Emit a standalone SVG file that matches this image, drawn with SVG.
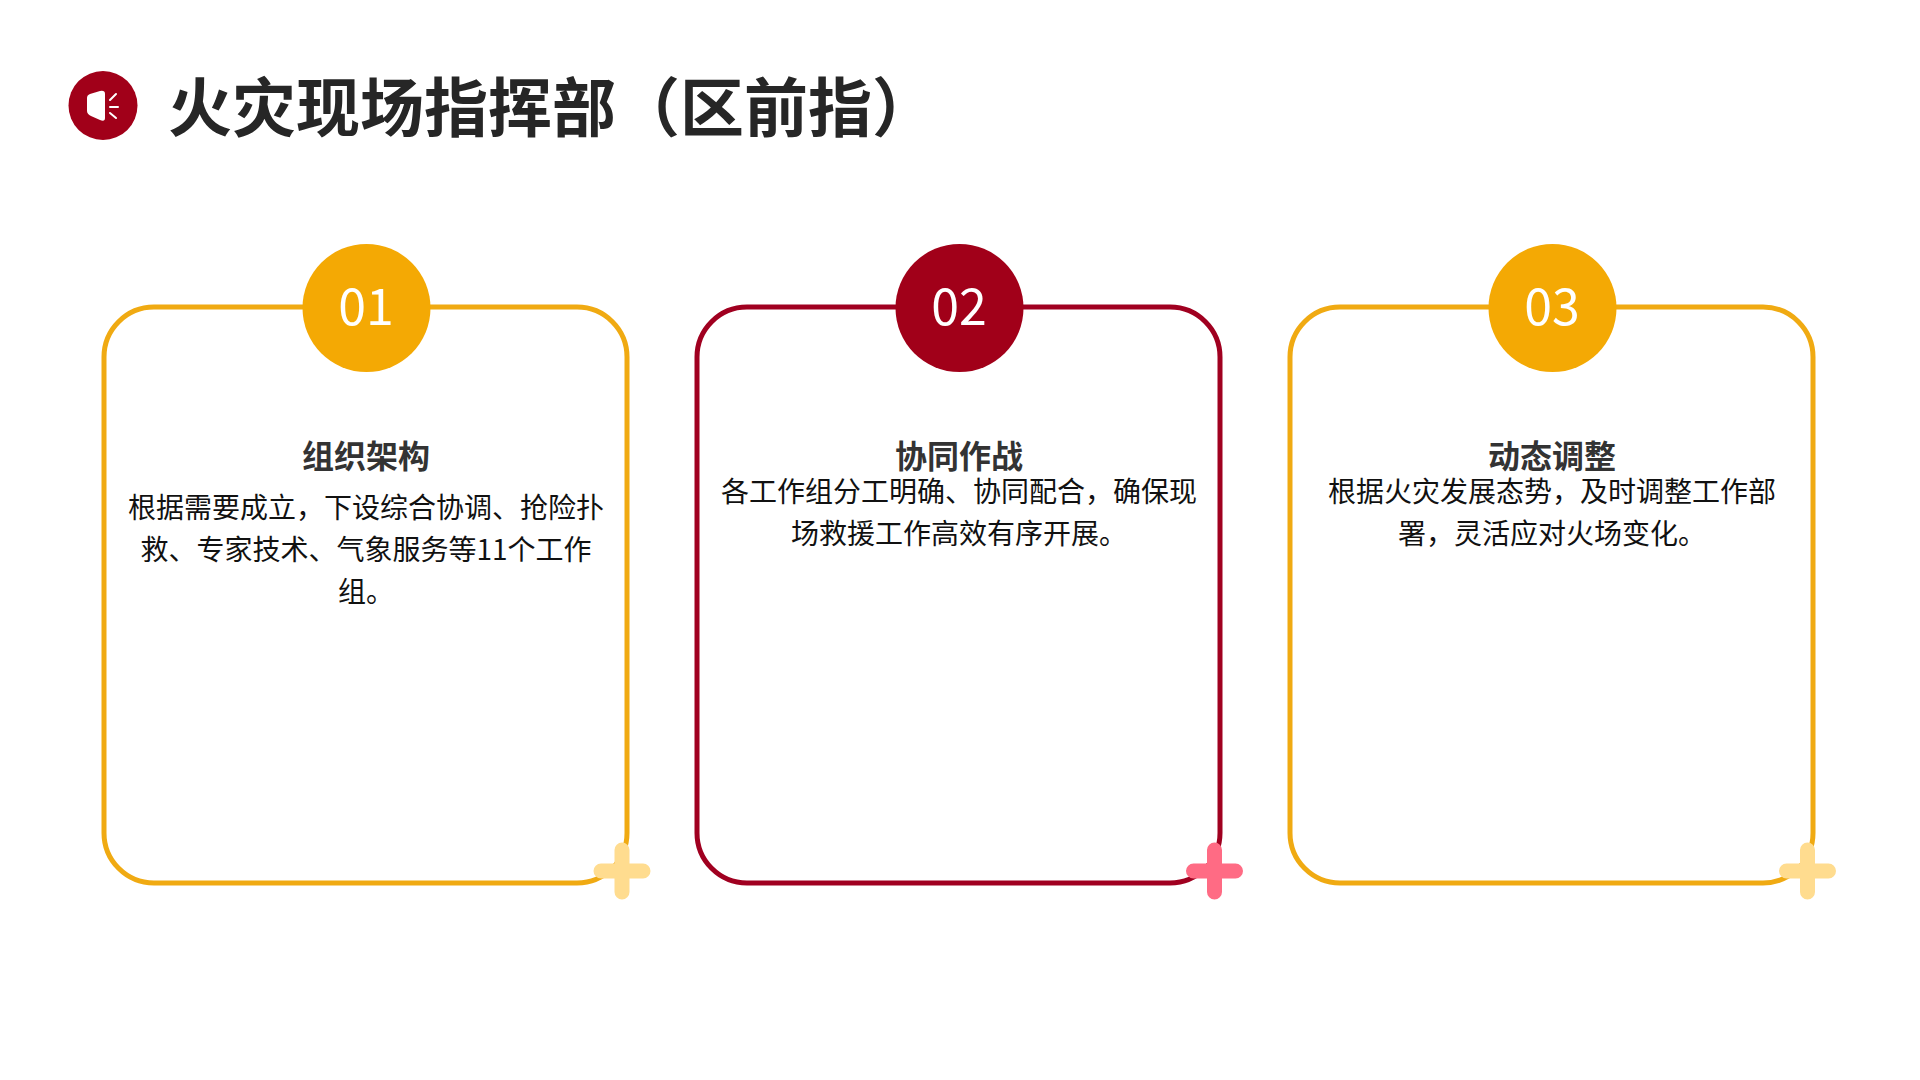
<svg xmlns="http://www.w3.org/2000/svg" width="1920" height="1080" viewBox="0 0 1920 1080">
<style>
text{font-family:"Noto Sans CJK SC","Noto Sans",sans-serif;text-anchor:middle}
.title{font-size:64px;font-weight:700;fill:#262626;text-anchor:start}
.h{font-size:32px;font-weight:700;fill:#333}
.b{font-size:28px;fill:#111}
.n{font-size:50px;font-weight:400;fill:#fff}
.card{fill:#fff;stroke-width:5}
.y{stroke:#f0aa12}.r{stroke:#a00020}
.py{stroke:#ffdc8f}.pr{stroke:#ff6b84}
.plus{stroke-width:15;stroke-linecap:round;fill:none}
</style>
<rect width="1920" height="1080" fill="#fff"/>
<g id="header">
<circle cx="103" cy="105.5" r="34.5" fill="#a10019"/>
<path d="M90 94 L100 91 Q105 90 105 94 L105 118 Q105 122 100 120 L91 116 Q87 114 87 111 L87 98 Q87 95 90 94Z" fill="#fff"/>
<path d="M110 100 L116 94 M110 107 L118 107 M110 113 L116 118" stroke="#fff" stroke-width="2" stroke-linecap="round" fill="none"/>
<text class="title" x="168" y="131">火灾现场指挥部（区前指）</text>
</g>
<g id="card1">
<rect class="card y" x="104" y="307" width="523" height="576" rx="50"/>
<circle cx="366.500" cy="308" r="64" fill="#f4a904"/>
<text class="n" x="366" y="325">01</text>
<text class="h" x="366" y="468">组织架构</text>
<text class="b" x="366" y="518">根据需要成立，下设综合协调、抢险扑</text>
<text class="b" x="366" y="560">救、专家技术、气象服务等11个工作</text>
<text class="b" x="366" y="602">组。</text>
<path class="plus py" d="M622 850V892M601 871H643"/>
</g>
<g id="card2">
<rect class="card r" x="697" y="307" width="523" height="576" rx="50"/>
<circle cx="959.500" cy="308" r="64" fill="#a10019"/>
<text class="n" x="959" y="325">02</text>
<text class="h" x="959" y="468">协同作战</text>
<text class="b" x="959" y="502">各工作组分工明确、协同配合，确保现</text>
<text class="b" x="959" y="544">场救援工作高效有序开展。</text>
<path class="plus pr" d="M1214.500 850V892M1193.500 871H1235.500"/>
</g>
<g id="card3">
<rect class="card y" x="1290" y="307" width="523" height="576" rx="50"/>
<circle cx="1552.500" cy="308" r="64" fill="#f4a904"/>
<text class="n" x="1552" y="325">03</text>
<text class="h" x="1552" y="468">动态调整</text>
<text class="b" x="1552" y="502">根据火灾发展态势，及时调整工作部</text>
<text class="b" x="1552" y="544">署，灵活应对火场变化。</text>
<path class="plus py" d="M1807.500 850V892M1786.500 871H1828.500"/>
</g>
<g id="connectors"/>
</svg>
